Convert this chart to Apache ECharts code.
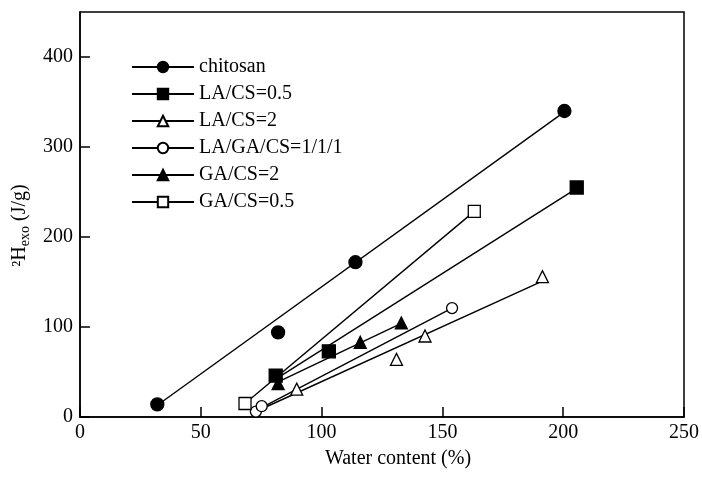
<!DOCTYPE html>
<html><head><meta charset="utf-8">
<script src="https://cdn.jsdelivr.net/npm/echarts@6/dist/echarts.min.js"></script>
<style>html,body{margin:0;padding:0;background:#fff}#c{width:702px;height:477px}</style>
</head><body><div id="c"></div>
<script>
// Measured points
var chitosanX = [32, 82, 114, 200.5];
var chitosanY = [14, 94, 172, 340];
var la05X = [81, 103, 205.6];
var la05Y = [46, 73, 255];
var la2X = [89.7, 131, 142.8, 191.4];
var la2Y = [31, 64, 90, 156];
var lagaX = [72.8, 75.2, 154];
var lagaY = [6, 12, 121];
var ga2X = [82, 116, 133];
var ga2Y = [37, 83, 104.5];
var ga05X = [68.3, 163.2];
var ga05Y = [15, 228.5];
// Fitted lines (endpoints)
var chitosanFitX = [32, 200.5], chitosanFitY = [13, 339];
var la05FitX = [81, 205.6], la05FitY = [42, 254];
var la2FitX = [76, 191.4], la2FitY = [10, 151];
var lagaFitX = [72.8, 154], lagaFitY = [7, 121];
var ga2FitX = [82, 133], ga2FitY = [39, 104];
var ga05FitX = [68.3, 163.2], ga05FitY = [15, 228.5];
var names = ['chitosan', 'LA/CS=0.5', 'LA/CS=2', 'LA/GA/CS=1/1/1', 'GA/CS=2', 'GA/CS=0.5'];
var xTicks = [0, 50, 100, 150, 200, 250];
var yTicks = [0, 100, 200, 300, 400];

function pairs(xs, ys) { return xs.map(function (x, i) { return [x, ys[i]]; }); }
var FONT = "'Liberation Serif','Times New Roman',serif";

var sets = [
  { name: names[0], pts: pairs(chitosanX, chitosanY), fit: pairs(chitosanFitX, chitosanFitY), symbol: 'circle', size: 13, fill: '#000' },
  { name: names[1], pts: pairs(la05X, la05Y), fit: pairs(la05FitX, la05FitY), symbol: 'rect', size: 13, fill: '#000' },
  { name: names[2], pts: pairs(la2X, la2Y), fit: pairs(la2FitX, la2FitY), symbol: 'triangle', size: 12, fill: '#fff' },
  { name: names[3], pts: pairs(lagaX, lagaY), fit: pairs(lagaFitX, lagaFitY), symbol: 'circle', size: 11, fill: '#fff' },
  { name: names[4], pts: pairs(ga2X, ga2Y), fit: pairs(ga2FitX, ga2FitY), symbol: 'triangle', size: 12, fill: '#000' },
  { name: names[5], pts: pairs(ga05X, ga05Y), fit: pairs(ga05FitX, ga05FitY), symbol: 'rect', size: 12, fill: '#fff' }
];

var series = [];
sets.forEach(function (s) {
  series.push({
    name: s.name, type: 'line', data: s.fit, showSymbol: false, symbol: s.symbol,
    lineStyle: { color: '#000', width: 1.4 },
    itemStyle: { color: s.fill, borderColor: '#000', borderWidth: 1.4 },
    z: 2, animation: false, silent: true
  });
});
sets.forEach(function (s) {
  series.push({
    name: s.name + ' pts', type: 'scatter', data: s.pts, symbol: s.symbol, symbolSize: s.size,
    itemStyle: { color: s.fill, borderColor: '#000', borderWidth: 1.3, opacity: 1 },
    z: 3, animation: false, silent: true
  });
});

var chart = echarts.init(document.getElementById('c'), null, { renderer: 'canvas' });
chart.setOption({
  backgroundColor: '#fff',
  animation: false,
  grid: { left: 80, right: 18, top: 12, bottom: 60, show: true, borderColor: '#000', borderWidth: 1.5 },
  legend: {
    data: names, orient: 'vertical', left: 131, top: 57, padding: 0,
    itemWidth: 62, itemHeight: 13, itemGap: 7, itemTextGap: 9,
    textStyle: { fontFamily: FONT, fontSize: 20, color: '#000' },
    selectedMode: false
  },
  xAxis: {
    type: 'value', min: 0, max: 250, interval: 50,
    name: 'Water content (%)', nameLocation: 'middle', nameGap: 32,
    nameTextStyle: { fontFamily: FONT, fontSize: 20, color: '#000', padding: [0, 0, 0, 32] },
    axisLine: { show: true, lineStyle: { color: '#000', width: 1.5 } },
    axisTick: { show: true, inside: true, length: 10, lineStyle: { color: '#000', width: 1.5 } },
    axisLabel: { fontFamily: FONT, fontSize: 20, color: '#000', margin: 6 },
    splitLine: { show: false }
  },
  yAxis: {
    type: 'value', min: 0, max: 450, interval: 50,
    name: '{a|²H}{s|exo}{a| (J/g)}', nameLocation: 'middle', nameGap: 38, nameRotate: 90,
    nameTextStyle: {
      fontFamily: FONT, fontSize: 20, color: '#000', padding: [0, 22, 0, 0],
      rich: {
        a: { fontFamily: FONT, fontSize: 20, color: '#000' },
        s: { fontFamily: FONT, fontSize: 14, color: '#000', padding: [10, 0, 0, 0] }
      }
    },
    axisLine: { show: true, lineStyle: { color: '#000', width: 1.5 } },
    axisTick: { show: true, inside: true, length: 10, customValues: yTicks, lineStyle: { color: '#000', width: 1.5 } },
    axisLabel: { fontFamily: FONT, fontSize: 20, color: '#000', margin: 7, customValues: yTicks },
    splitLine: { show: false }
  },
  series: series
});
</script></body></html>
